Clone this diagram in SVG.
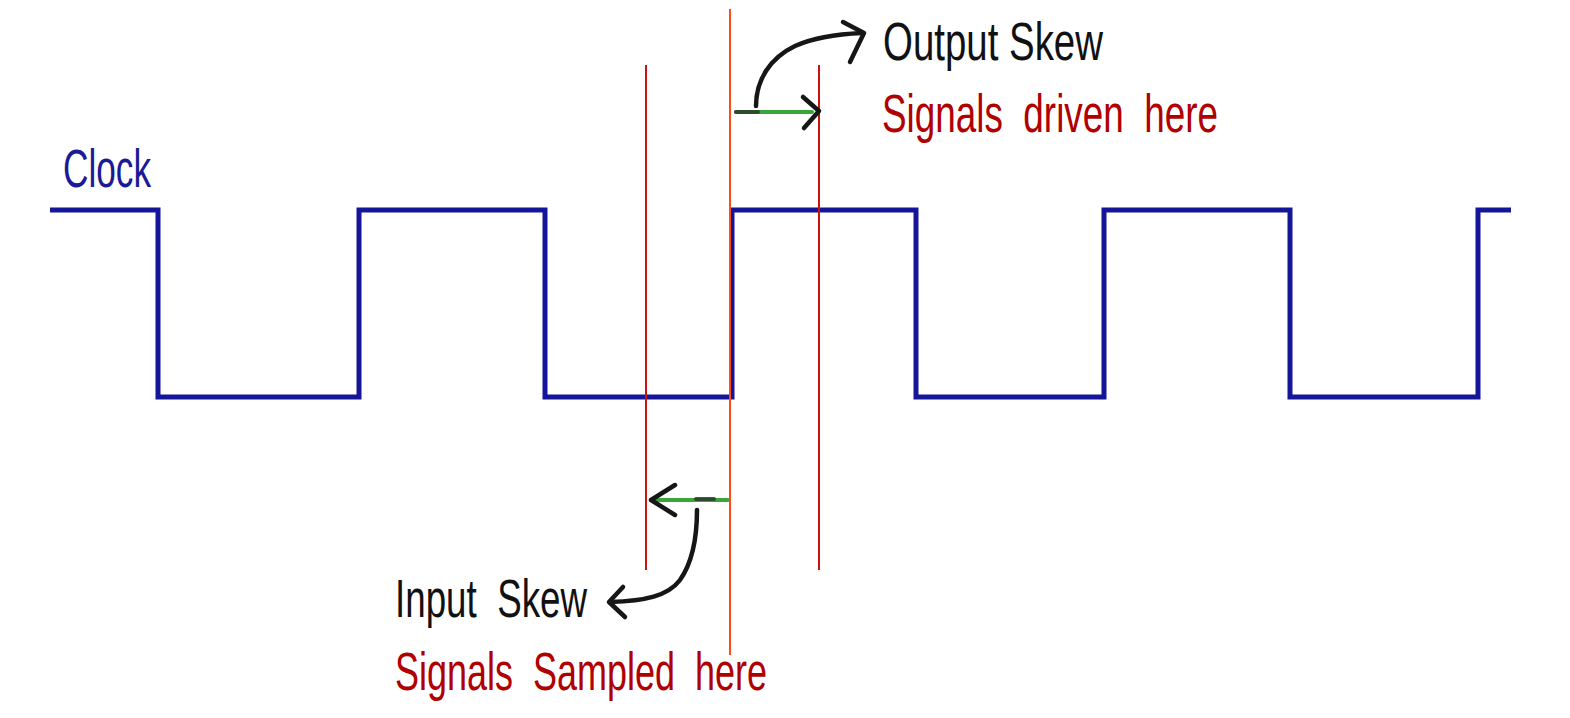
<svg xmlns="http://www.w3.org/2000/svg" width="1570" height="718" viewBox="0 0 1570 718">
<style>
.lbl{font-family:"Liberation Sans",Arial,sans-serif;font-size:53px;white-space:pre;}
.blk{fill:#111111;}
.red{fill:#b00000;}
.clk{fill:#1a1a96;}
.vline{fill:none;stroke:#cc1111;stroke-width:2;}
.vmid{fill:none;stroke:#ff4a1a;stroke-width:2;}
.sketch{fill:none;stroke:#161616;stroke-width:4.5;stroke-linecap:round;stroke-linejoin:round;}
.green{fill:none;stroke:#3aa63a;stroke-width:4;stroke-linecap:round;}
.dark{stroke:#2a3a2a;stroke-width:4;stroke-linecap:round;opacity:0.85;}
</style>
<rect width="1570" height="718" fill="#ffffff"/>
<g id="clock">
<path d="M50,210 H158 V397 H359 V210 H545 V397 H732 V210 H916 V397 H1104 V210 H1290 V397 H1478 V210 H1511" fill="none" stroke="#15159a" stroke-width="5" stroke-linejoin="miter"/>
<text class="lbl clk" x="63" y="187" textLength="88" lengthAdjust="spacingAndGlyphs">Clock</text>
</g>
<g id="markers">
<line class="vline" x1="646" y1="65" x2="646" y2="570"/>
<line class="vmid" x1="730" y1="9" x2="730" y2="655"/>
<line class="vline" x1="819" y1="65" x2="819" y2="570"/>
</g>
<g id="connectors">
<g id="output-skew-arrow">
<line class="green" x1="736" y1="112" x2="812" y2="112"/>
<line class="dark" x1="736" y1="112" x2="758" y2="112"/>
<path class="sketch" d="M803,97 L819,111 L804,128"/>
<path class="sketch" d="M756,106 C756,80 770,58 795,46 C815,37 840,34 862,33"/>
<path class="sketch" d="M843,22 L864,33 L850,62"/>
</g>
<g id="input-skew-arrow">
<line class="green" x1="728" y1="500" x2="652" y2="500"/>
<line class="dark" x1="696" y1="499" x2="714" y2="499"/>
<path class="sketch" d="M675,485 L651,500 L675,515"/>
<path class="sketch" d="M697,510 C697,535 694,560 680,580 C668,596 645,601 610,602"/>
<path class="sketch" d="M623,587 L609,602 L625,617"/>
</g>
</g>
<g id="labels">
<text id="output-skew" class="lbl blk" x="883" y="60" textLength="220" lengthAdjust="spacingAndGlyphs" xml:space="preserve">Output Skew</text>
<text id="signals-driven" class="lbl red" x="882" y="132" textLength="336" lengthAdjust="spacingAndGlyphs" xml:space="preserve">Signals  driven  here</text>
<text id="input-skew" class="lbl blk" x="395" y="617" textLength="192" lengthAdjust="spacingAndGlyphs" xml:space="preserve">Input  Skew</text>
<text id="signals-sampled" class="lbl red" x="395" y="690" textLength="372" lengthAdjust="spacingAndGlyphs" xml:space="preserve">Signals  Sampled  here</text>
</g>
</svg>
